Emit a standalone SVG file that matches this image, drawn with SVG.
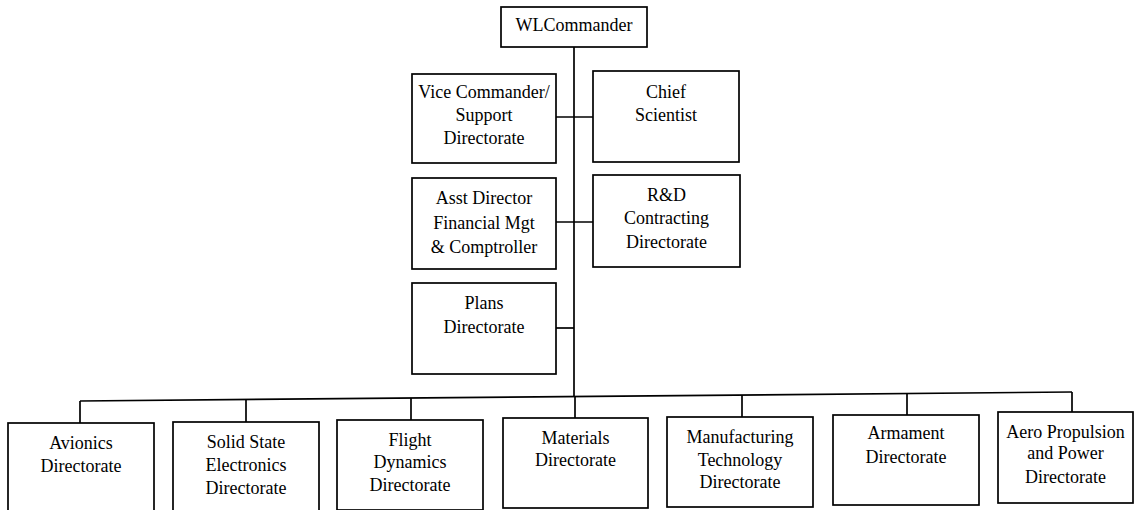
<svg xmlns="http://www.w3.org/2000/svg" width="1136" height="510" viewBox="0 0 1136 510">
<style>
.box{fill:#fff;stroke:#000;stroke-width:1.7}
.ln{fill:none;stroke:#000;stroke-width:1.7}
text{font-family:"Liberation Serif","Times New Roman",serif;font-size:18px;fill:#000;text-anchor:middle}
</style>
<rect width="1136" height="510" fill="#fff"/>
<g id="connectors">
<path class="ln" d="M574,47 V396"/>
<path class="ln" d="M556,117 H593"/>
<path class="ln" d="M556,222 H593"/>
<path class="ln" d="M556,328 H574"/>
<path class="ln" d="M80,401 L1072,392"/>
<path class="ln" d="M80,401 V423"/>
<path class="ln" d="M246,399.5 V422"/>
<path class="ln" d="M411,398 V420"/>
<path class="ln" d="M575,396.5 V418"/>
<path class="ln" d="M742,395 V417"/>
<path class="ln" d="M907,393.5 V415"/>
<path class="ln" d="M1072,392 V412"/>
</g>
<g id="wl-commander">
<rect class="box" x="501" y="7" width="146" height="40"/>
<text x="574" y="31">WLCommander</text>
</g>
<g id="vice-commander">
<rect class="box" x="412" y="74" width="144" height="89"/>
<text x="484" y="98">Vice Commander/</text>
<text x="484" y="121">Support</text>
<text x="484" y="144">Directorate</text>
</g>
<g id="chief-scientist">
<rect class="box" x="593" y="71" width="146" height="91"/>
<text x="666" y="98">Chief</text>
<text x="666" y="121">Scientist</text>
</g>
<g id="asst-director">
<rect class="box" x="412" y="178" width="144" height="91"/>
<text x="484" y="204">Asst Director</text>
<text x="484" y="229">Financial Mgt</text>
<text x="484" y="253">&amp; Comptroller</text>
</g>
<g id="rd-contracting">
<rect class="box" x="593" y="175" width="147" height="92"/>
<text x="666.5" y="201">R&amp;D</text>
<text x="666.5" y="224">Contracting</text>
<text x="666.5" y="248">Directorate</text>
</g>
<g id="plans">
<rect class="box" x="412" y="283" width="144" height="91"/>
<text x="484" y="309">Plans</text>
<text x="484" y="333">Directorate</text>
</g>
<g id="avionics">
<rect class="box" x="8" y="423" width="146" height="92"/>
<text x="81" y="449">Avionics</text>
<text x="81" y="472">Directorate</text>
</g>
<g id="solid-state">
<rect class="box" x="173" y="422" width="146" height="92"/>
<text x="246" y="448">Solid State</text>
<text x="246" y="471">Electronics</text>
<text x="246" y="494">Directorate</text>
</g>
<g id="flight-dynamics">
<rect class="box" x="337" y="420" width="146" height="90"/>
<text x="410" y="446">Flight</text>
<text x="410" y="468">Dynamics</text>
<text x="410" y="491">Directorate</text>
</g>
<g id="materials">
<rect class="box" x="503" y="418" width="145" height="90"/>
<text x="575.5" y="444">Materials</text>
<text x="575.5" y="466">Directorate</text>
</g>
<g id="manufacturing">
<rect class="box" x="667" y="417" width="146" height="90"/>
<text x="740" y="443">Manufacturing</text>
<text x="740" y="466">Technology</text>
<text x="740" y="488">Directorate</text>
</g>
<g id="armament">
<rect class="box" x="833" y="415" width="146" height="90"/>
<text x="906" y="439">Armament</text>
<text x="906" y="463">Directorate</text>
</g>
<g id="aero-propulsion">
<rect class="box" x="998" y="412" width="135" height="91"/>
<text x="1065.5" y="438">Aero Propulsion</text>
<text x="1065.5" y="459">and Power</text>
<text x="1065.5" y="483">Directorate</text>
</g>
</svg>
